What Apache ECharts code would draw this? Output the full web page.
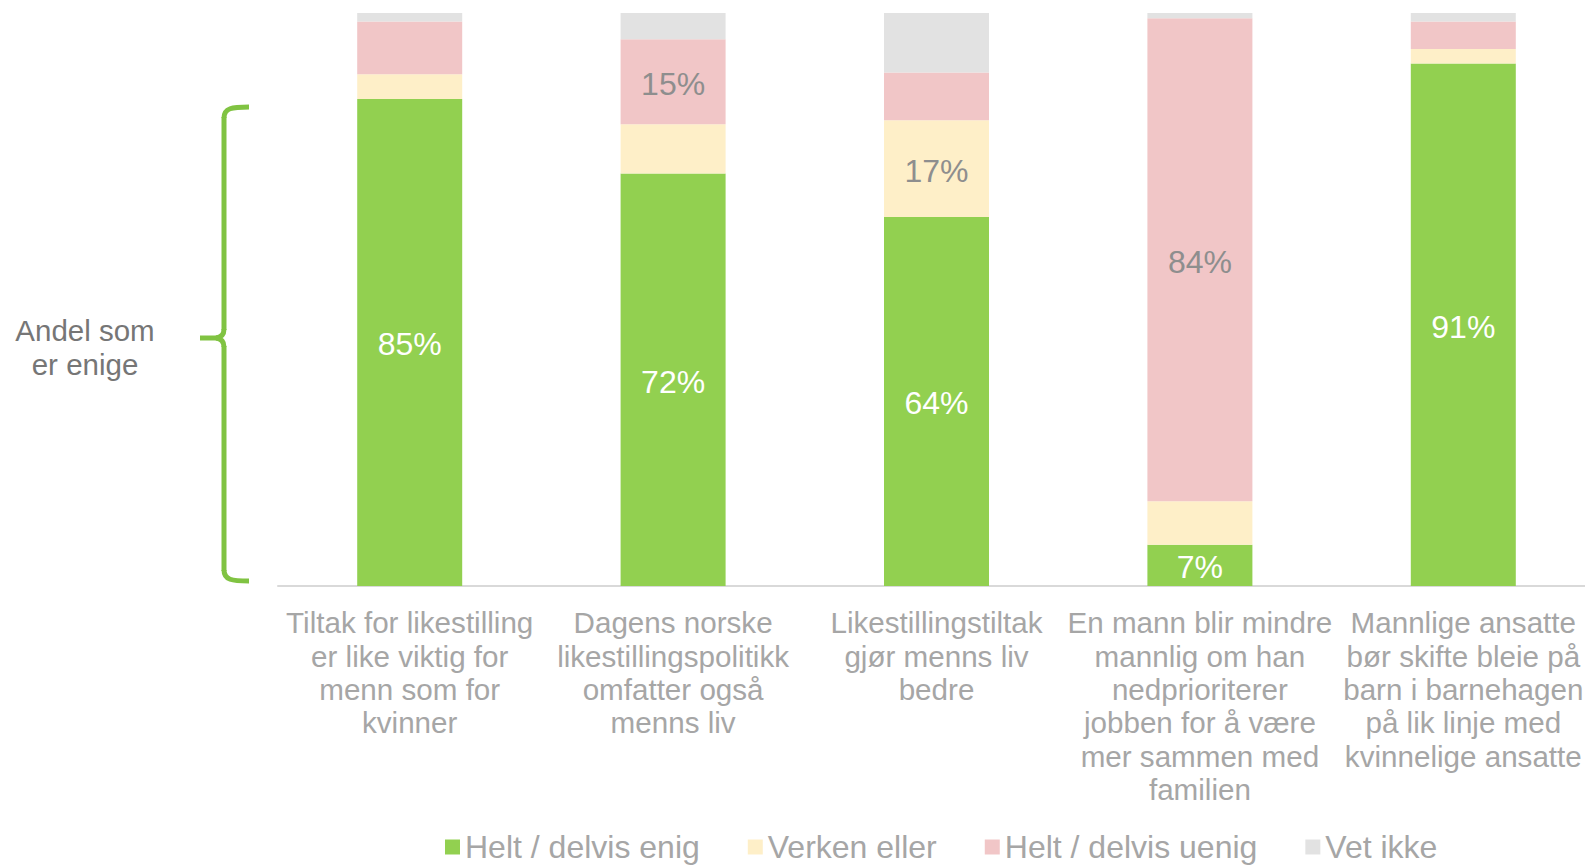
<!DOCTYPE html>
<html>
<head>
<meta charset="utf-8">
<script src="https://cdn.jsdelivr.net/npm/echarts@6/dist/echarts.min.js"></script>
<style>
html,body{margin:0;padding:0;background:#fff;}
#chart{width:1585px;height:865px;}
</style>
</head>
<body>
<div id="chart"></div>
<script>
// Categories (line breaks as in the reference)
const categories = [
  "Tiltak for likestilling\ner like viktig for\nmenn som for\nkvinner",
  "Dagens norske\nlikestillingspolitikk\nomfatter også\nmenns liv",
  "Likestillingstiltak\ngjør menns liv\nbedre",
  "En mann blir mindre\nmannlig om han\nnedprioriterer\njobben for å være\nmer sammen med\nfamilien",
  "Mannlige ansatte\nbør skifte bleie på\nbarn i barnehagen\npå lik linje med\nkvinnelige ansatte"
];
const seriesNames = ["Helt / delvis enig", "Verken eller", "Helt / delvis uenig", "Vet ikke"];
const enig    = [85.0, 72.0, 64.4, 7.2, 91.2];
const verken  = [4.3, 8.6, 16.9, 7.6, 2.5];
const uenig   = [9.2, 14.8, 8.3, 84.3, 4.8];
const vetIkke = [1.5, 4.6, 10.4, 0.9, 1.5];
const sideLabel = "Andel som\ner enige";

const colors = ["#92D050", "#FEEFC8", "#F1C6C7", "#E2E2E2"];
const valueSets = [enig, verken, uenig, vetIkke];
const FONT = 'Liberation Sans, Arial, sans-serif';

function makeData(vals, idx) {
  return vals.map(v => {
    let show;
    if (idx === 0) show = true;
    else if (idx === 3) show = false;
    else show = v >= 10;
    return { value: v, label: { show: show } };
  });
}

const series = valueSets.map((vals, i) => ({
  name: seriesNames[i],
  type: 'bar',
  stack: 'total',
  barWidth: 105,
  itemStyle: { color: colors[i] },
  emphasis: { disabled: true },
  label: {
    position: 'inside',
    offset: [0, 2],
    fontFamily: FONT,
    fontSize: 32,
    color: i === 0 ? '#ffffff' : '#8E8E8E',
    formatter: p => Math.round(p.value) + '%'
  },
  data: makeData(vals, i)
}));

const braceStyle = { stroke: '#80C342', lineWidth: 5, fill: null, lineCap: 'butt' };
const brace = {
  type: 'group',
  children: [
    { type: 'bezierCurve', shape: { x1: 249, y1: 107, cpx1: 232, cpy1: 107, cpx2: 224, cpy2: 108, x2: 224, y2: 118 }, style: braceStyle },
    { type: 'line', shape: { x1: 224, y1: 117, x2: 224, y2: 330 }, style: braceStyle },
    { type: 'bezierCurve', shape: { x1: 224, y1: 329, cpx1: 224, cpy1: 337, x2: 216, y2: 338 }, style: braceStyle },
    { type: 'line', shape: { x1: 217, y1: 338, x2: 200, y2: 338 }, style: braceStyle },
    { type: 'bezierCurve', shape: { x1: 216, y1: 338, cpx1: 224, cpy1: 339, x2: 224, y2: 347 }, style: braceStyle },
    { type: 'line', shape: { x1: 224, y1: 346, x2: 224, y2: 571 }, style: braceStyle },
    { type: 'bezierCurve', shape: { x1: 224, y1: 570, cpx1: 224, cpy1: 580, cpx2: 232, cpy2: 581, x2: 249, y2: 581 }, style: braceStyle }
  ]
};

const chart = echarts.init(document.getElementById('chart'), null, { renderer: 'svg' });
chart.setOption({
  animation: false,
  textStyle: { fontFamily: FONT },
  grid: { left: 278, width: 1317, top: 13, bottom: 279, containLabel: false, outerBoundsMode: 'none' },
  legend: {
    data: seriesNames,
    left: 440,
    top: 826,
    icon: 'rect',
    itemWidth: 15,
    itemHeight: 15,
    itemGap: 48,
    textStyle: { fontSize: 32, color: '#A6A6A6', fontFamily: FONT, lineHeight: 32 },
    selectedMode: false
  },
  xAxis: {
    type: 'category',
    data: categories,
    axisLine: { show: true, lineStyle: { color: '#D9D9D9', width: 2 } },
    axisTick: { show: false },
    axisLabel: {
      interval: 0,
      margin: 20,
      fontSize: 29.6,
      lineHeight: 33.4,
      color: '#A6A6A6',
      fontFamily: FONT,
      hideOverlap: false
    }
  },
  yAxis: {
    type: 'value',
    min: 0,
    max: 100,
    show: false,
    splitLine: { show: false }
  },
  graphic: [
    brace,
    {
      type: 'text',
      x: 85,
      y: 313,
      style: {
        text: sideLabel,
        fontSize: 29.5,
        lineHeight: 34.5,
        fill: '#767676',
        align: 'center',
        fontFamily: FONT
      }
    }
  ],
  series: series
});
</script>
</body>
</html>
